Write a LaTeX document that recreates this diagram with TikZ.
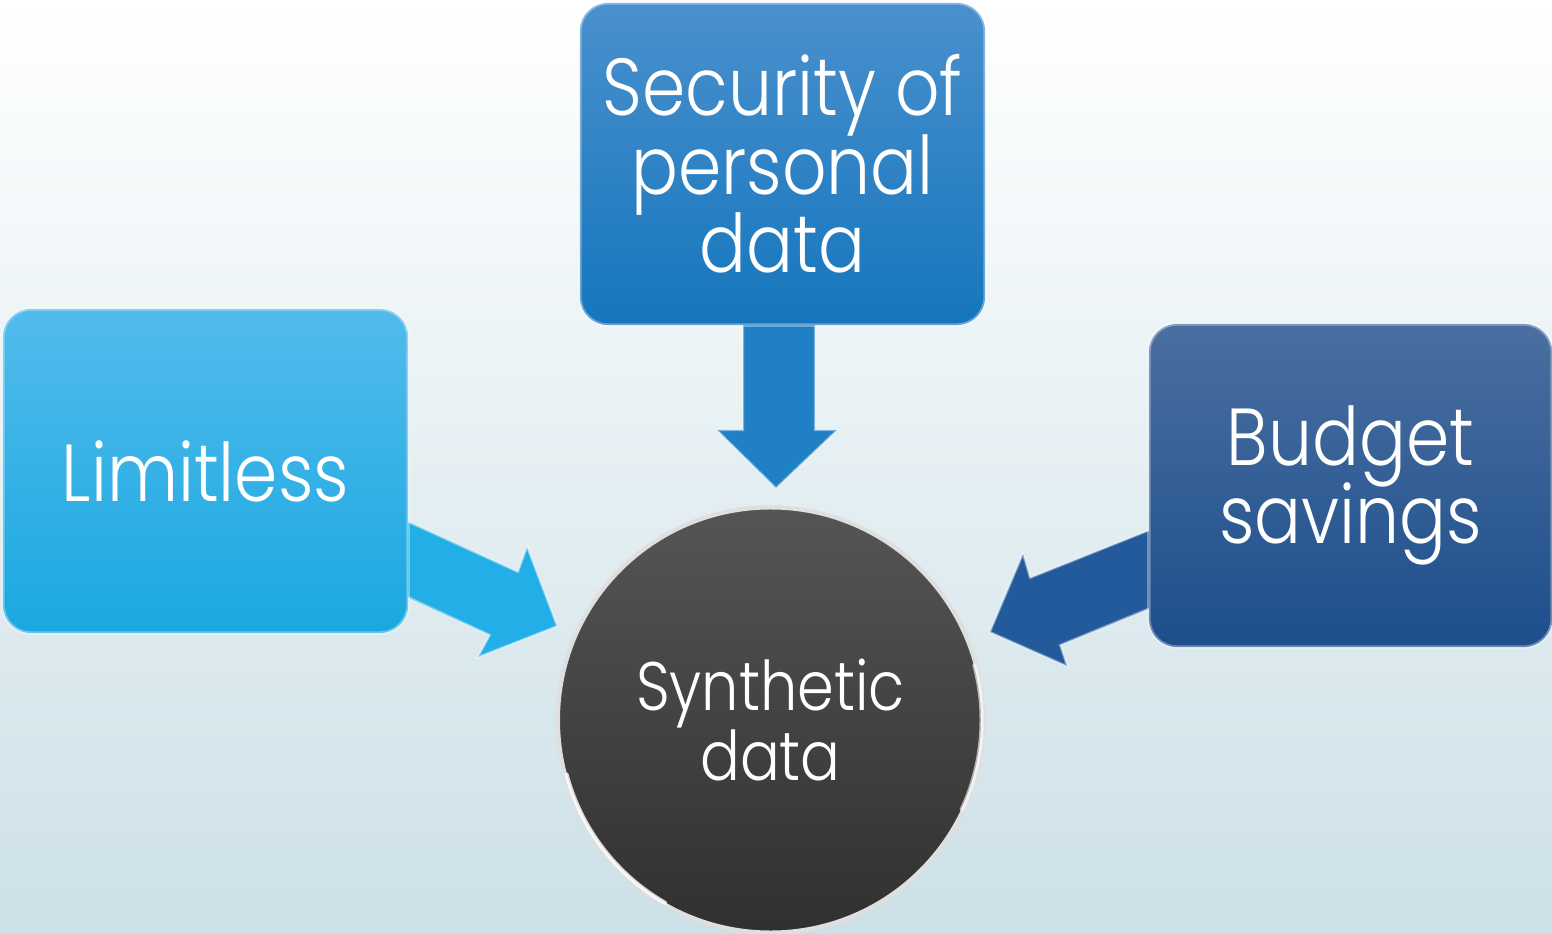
\documentclass[tikz,border=0pt]{standalone}
\usepackage{fontspec}
\setmainfont{Poppins}[UprightFont=* Light, FakeStretch=0.86]
\usetikzlibrary{calc}
\definecolor{bgtop}{HTML}{FFFFFF}
\definecolor{bgbot}{HTML}{CCE0E7}
\definecolor{sectop}{HTML}{4A90CD}
\definecolor{secbot}{HTML}{1576BD}
\definecolor{limtop}{HTML}{52BBEC}
\definecolor{limbot}{HTML}{1AA8E0}
\definecolor{budtop}{HTML}{4A6FA0}
\definecolor{budbot}{HTML}{1D4E8C}
\definecolor{syntop}{HTML}{555555}
\definecolor{synbot}{HTML}{303030}
\definecolor{arrsec}{HTML}{2080C5}
\definecolor{arrlim}{HTML}{22AEE6}
\definecolor{arrbud}{HTML}{225A9C}
\newcommand{\myboxfont}{\fontsize{23}{22.3}\selectfont\lineskiplimit -20pt\relax}
\newcommand{\myhubfont}{\fontsize{19.5}{19.8}\selectfont\lineskiplimit -20pt\relax}
\tikzset{
  box/.style={rounded corners=8pt, draw=white, draw opacity=0.35, line width=1pt,
    text=white, align=center, inner sep=2pt, font=\myboxfont},
  blockarrow/.style={draw=white, draw opacity=0.4, line width=0.6pt, line join=miter},
  hub/.style={circle, draw=white!75!gray, line width=1.2pt, text=white, align=center,
    font=\myhubfont, minimum size=4.25cm, inner sep=0pt},
  gloss/.style={white, line width=1.2pt, line cap=round, opacity=0.8}
}
\begin{document}
\begin{tikzpicture}[x=0.01cm,y=-0.01cm]
\shade[top color=bgtop,bottom color=bgbot] (0,0) rectangle (1552,934);
\useasboundingbox (0,0) rectangle (1552,934);
% arrows
\fill[arrsec] (743,320) -- (815,320) -- (815,430) -- (837,430) -- (776,488) -- (717,430) -- (743,430) -- cycle;
\draw[blockarrow] (815,326) -- (815,430) -- (837,430) -- (776,488) -- (717,430) -- (743,430) -- (743,326);
\fill[arrlim] (400,518) -- (518,572) -- (527,547) -- (557,626) -- (478,657) -- (490,635) -- (400,594) -- cycle;
\draw[blockarrow] (408,522) -- (518,572) -- (527,547) -- (557,626) -- (478,657) -- (490,635) -- (408,597);
\fill[arrbud] (1158,527) -- (1030,578) -- (1023,554) -- (990,632) -- (1067,666) -- (1060,645) -- (1158,605) -- cycle;
\draw[blockarrow] (1150,530) -- (1030,578) -- (1023,554) -- (990,632) -- (1067,666) -- (1060,645) -- (1150,608);
% boxes
\node[box, top color=sectop, bottom color=secbot, minimum width=4.05cm, minimum height=3.22cm] (sec) at (782.5,164) {Security of\\personal\\data};
\node[box, top color=limtop, bottom color=limbot, minimum width=4.05cm, minimum height=3.24cm] (lim) at (205.5,471) {Limitless};
\node[box, top color=budtop, bottom color=budbot, minimum width=4.03cm, minimum height=3.23cm] (bud) at (1350.5,485.5) {Budget\\savings};
\node[hub, top color=syntop, bottom color=synbot] (syn) at (770.5,720) {Synthetic\\data};
% glossy rim highlights on the hub
\draw[gloss] ($(syn.center)+(195:2.11cm)$) arc[start angle=195, end angle=240, radius=2.11cm];
\draw[gloss, opacity=0.6] ($(syn.center)+(-25:2.11cm)$) arc[start angle=-25, end angle=15, radius=2.11cm];
\end{tikzpicture}
\end{document}
